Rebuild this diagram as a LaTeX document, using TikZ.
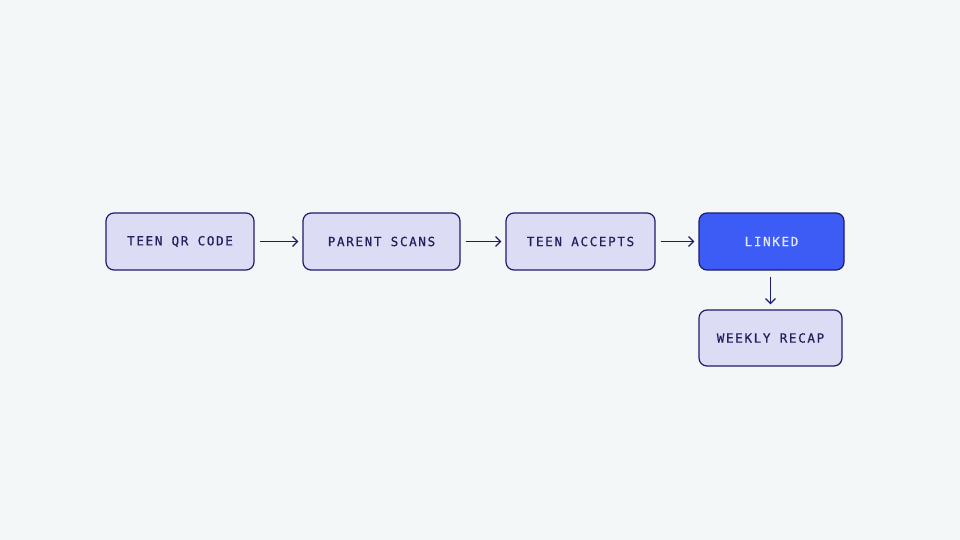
\documentclass[tikz,border=0pt]{standalone}
\usepackage{fontspec}
\newfontfamily\boxfont[LetterSpace=13,FakeBold=0.6]{DejaVu Sans Mono}
\usetikzlibrary{arrows.meta}
\definecolor{bg}{HTML}{F3F7F7}
\definecolor{boxfill}{HTML}{DCDCF5}
\definecolor{navy}{HTML}{1E1B6E}
\definecolor{txt}{HTML}{23205E}
\definecolor{linkfill}{HTML}{3D5CF5}
\definecolor{linktxt}{HTML}{E4E8FF}
\tikzset{
  stepbox/.style={draw=navy, fill=boxfill, line width=1.2pt, rounded corners=8pt,
    minimum height=57pt, inner sep=0pt, font=\boxfont\fontsize{12.6}{15}\selectfont, text=txt},
  hotbox/.style={stepbox, fill=linkfill, text=linktxt},
  flow/.style={draw=navy, line width=1.2pt, -{Straight Barb[length=5pt,width=10pt]}}
}
\begin{document}
\begin{tikzpicture}[x=1pt,y=-1pt]
\fill[bg] (0,0) rectangle (960,540);
\useasboundingbox (0,0) rectangle (960,540);
\node[stepbox, minimum width=148pt] (a) at (180,241.5) {TEEN QR CODE};
\node[stepbox, minimum width=157pt] (b) at (381.5,241.5) {PARENT SCANS};
\node[stepbox, minimum width=149pt] (c) at (580.5,241.5) {TEEN ACCEPTS};
\node[hotbox, minimum width=145pt] (d) at (771.5,241.5) {LINKED};
\node[stepbox, minimum width=143pt, minimum height=56pt] (e) at (770.5,338) {WEEKLY RECAP};
\draw[flow] ([xshift=5pt]a.east) -- ([xshift=-4pt]b.west);
\draw[flow] ([xshift=5pt]b.east) -- ([xshift=-4pt]c.west);
\draw[flow] ([xshift=5pt]c.east) -- ([xshift=-4pt]d.west);
\draw[flow] ([yshift=-6pt]d.south -| e.north) -- ([yshift=5pt]e.north);
\end{tikzpicture}
\end{document}
